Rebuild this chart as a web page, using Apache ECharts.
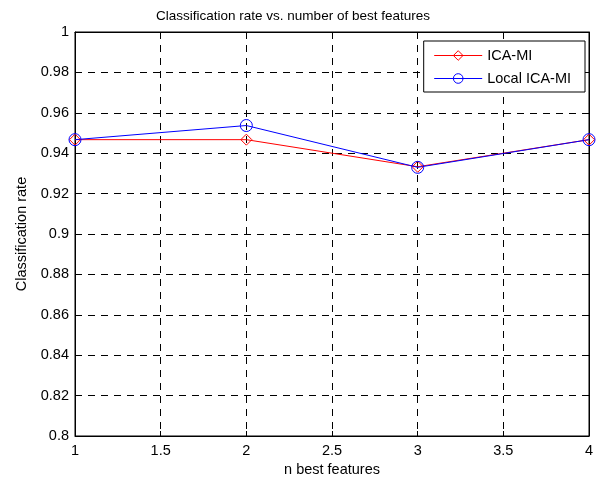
<!DOCTYPE html>
<html>
<head>
<meta charset="utf-8">
<script src="https://cdn.jsdelivr.net/npm/echarts@6/dist/echarts.min.js"></script>
<style>
  html, body { margin: 0; padding: 0; background: #fff; }
  #chart { width: 602px; height: 479px; }
</style>
</head>
<body>
<div id="chart"></div>
<script>
// n best features
const nFeatures = [1, 2, 3, 4];
// classification rate per method
const icaMi = [0.9467, 0.9467, 0.9333, 0.9467];
const localIcaMi = [0.9467, 0.9537, 0.9330, 0.9467];

const font = '"Liberation Sans", Arial, Helvetica, sans-serif';

const chart = echarts.init(document.getElementById('chart'), null, { renderer: 'canvas' });

function pairs(xs, ys) {
  return xs.map((x, i) => [x, ys[i]]);
}

const dashed = { show: true, lineStyle: { color: '#000', type: [7, 6], width: 1 } };
const tick = { show: true, inside: true, length: 5, lineStyle: { color: '#000' } };

chart.setOption({
  animation: false,
  backgroundColor: '#fff',
  textStyle: { fontFamily: font },
  title: {
    text: 'Classification rate vs. number of best features',
    left: 288,
    textAlign: 'center',
    top: 4,
    textStyle: { fontSize: 13.5, fontWeight: 'normal', color: '#000', fontFamily: font }
  },
  legend: {
    right: 17,
    top: 41,
    orient: 'vertical',
    itemWidth: 48,
    itemHeight: 12,
    itemGap: 8,
    padding: [7, 14, 6, 10],
    borderColor: '#000',
    borderWidth: 1,
    backgroundColor: '#fff',
    textStyle: { fontSize: 14.5, color: '#000', fontFamily: font },
    lineStyle: { width: 1 },
    itemStyle: { borderWidth: 1 },
    data: ['ICA-MI', 'Local ICA-MI']
  },
  grid: {
    left: 75, right: 13, top: 32, bottom: 43,
    outerBoundsMode: 'none',
    show: true, borderColor: '#000', borderWidth: 1
  },
  xAxis: [{
    type: 'value', min: 1, max: 4, interval: 0.5,
    name: 'n best features', nameLocation: 'middle', nameGap: 24,
    nameTextStyle: { fontSize: 14.5, color: '#000', fontFamily: font },
    axisLine: { show: true, lineStyle: { color: '#000' } },
    axisTick: tick,
    axisLabel: { fontSize: 14.5, color: '#000', margin: 7, fontFamily: font },
    splitLine: dashed
  }, {
    type: 'value', min: 1, max: 4, interval: 0.5, position: 'top',
    axisLine: { show: true, lineStyle: { color: '#000' } },
    axisTick: tick,
    axisLabel: { show: false }, splitLine: { show: false }
  }],
  yAxis: [{
    type: 'value', min: 0.8, max: 1, interval: 0.02,
    name: 'Classification rate', nameLocation: 'middle', nameGap: 46,
    nameTextStyle: { fontSize: 14.5, color: '#000', fontFamily: font },
    axisLine: { show: true, lineStyle: { color: '#000' } },
    axisTick: tick,
    axisLabel: {
      fontSize: 14.5, color: '#000', margin: 6, fontFamily: font,
      formatter: v => String(parseFloat(v.toFixed(2)))
    },
    splitLine: dashed
  }, {
    type: 'value', min: 0.8, max: 1, interval: 0.02, position: 'right',
    axisLine: { show: true, lineStyle: { color: '#000' } },
    axisTick: tick,
    axisLabel: { show: false }, splitLine: { show: false }
  }],
  series: [{
    name: 'ICA-MI',
    type: 'line',
    data: pairs(nFeatures, icaMi),
    symbol: 'diamond',
    symbolSize: 11,
    color: '#ff0000',
    lineStyle: { width: 1, color: '#ff0000' },
    itemStyle: { color: 'rgba(0,0,0,0)', borderColor: '#ff0000', borderWidth: 1 }
  }, {
    name: 'Local ICA-MI',
    type: 'line',
    data: pairs(nFeatures, localIcaMi),
    symbol: 'circle',
    symbolSize: 12,
    color: '#0000ff',
    lineStyle: { width: 1, color: '#0000ff' },
    itemStyle: { color: 'rgba(0,0,0,0)', borderColor: '#0000ff', borderWidth: 1 }
  }]
});
</script>
</body>
</html>
